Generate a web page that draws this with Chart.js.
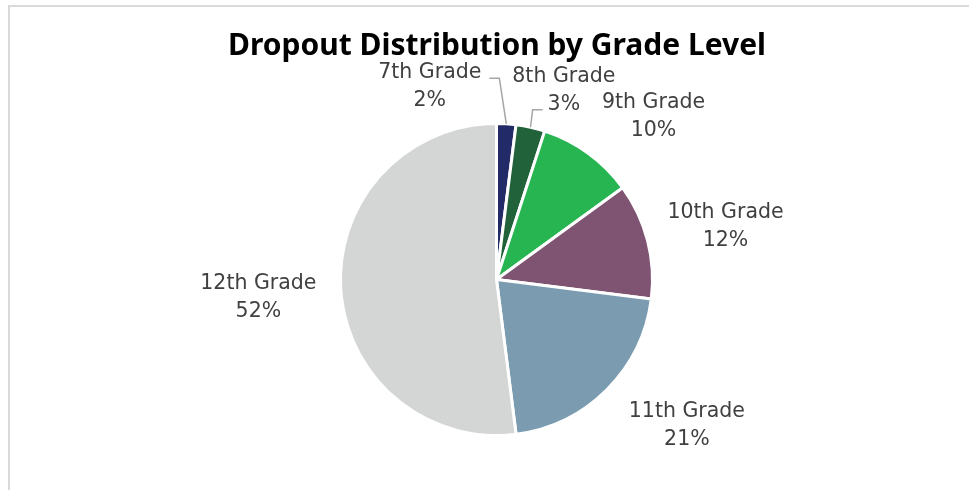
<!DOCTYPE html>
<html>
<head>
<meta charset="utf-8">
<script src="https://cdn.jsdelivr.net/npm/chart.js@4"></script>
<style>
  html, body { margin: 0; padding: 0; background: #fff; }
  #wrap { position: relative; width: 969px; height: 490px; }
  #frame {
    position: absolute; left: 8px; top: 5px; right: 0; bottom: 0;
    border-top: 2px solid #d9d9d9; border-left: 2px solid #d9d9d9;
  }
  canvas { position: absolute; left: 0; top: 0; }
</style>
</head>
<body>
<div id="wrap">
  <div id="frame"></div>
  <canvas id="dropout-pie" width="969" height="490"></canvas>
</div>
<script>
const grades = ["7th Grade", "8th Grade", "9th Grade", "10th Grade", "11th Grade", "12th Grade"];
const shares = [2, 3, 10, 12, 21, 52];
const sliceColors = ["#222a68", "#21623a", "#27b552", "#7f5372", "#7b9bb1", "#d4d5d5"];

// where each label sits: turn (deg) away from the slice middle, distance as a multiple of the radius
const labelTurn = [-22.5, 6.8, 7.6, 0.9, -7.9, -0.3];
const labelReach = [1.32, 1.30, 1.46, 1.51, 1.53, 1.53];

const titleText = "Dropout Distribution by Grade Level";

const titlePlugin = {
  id: "excelTitle",
  afterDraw(chart) {
    const ctx = chart.ctx;
    ctx.save();
    ctx.font = "bold 30px 'Noto Sans'";
    ctx.fillStyle = "#000000";
    ctx.textAlign = "center";
    ctx.textBaseline = "alphabetic";
    ctx.fillText(titleText, 497, 55);
    ctx.restore();
  },
};

const sliceLabels = {
  id: "sliceLabels",
  afterDatasetsDraw(chart) {
    const ctx = chart.ctx;
    const meta = chart.getDatasetMeta(0);
    ctx.save();
    ctx.font = "20.5px 'DejaVu Sans'";
    ctx.fillStyle = "#404040";
    ctx.textAlign = "center";
    ctx.textBaseline = "alphabetic";
    meta.data.forEach((arc, i) => {
      const { x, y, startAngle, endAngle, outerRadius } = arc.getProps(
        ["x", "y", "startAngle", "endAngle", "outerRadius"], true);
      const mid = (startAngle + endAngle) / 2;
      const a = mid + (labelTurn[i] * Math.PI) / 180;
      const r = outerRadius * labelReach[i];
      const cx = x + Math.cos(a) * r;
      const cy = y + Math.sin(a) * r;
      const line1 = grades[i];
      const line2 = shares[i] + "%";
      const base1 = cy - 14 + 7.5;
      const base2 = cy + 14 + 7.5;
      ctx.fillText(line1, cx, base1);
      ctx.fillText(line2, cx, base2);

      // leader lines for the two thin slices at the top
      if (i < 2) {
        const ex = x + Math.cos(mid) * outerRadius;
        const ey = y + Math.sin(mid) * outerRadius;
        let sx, sy, kx;
        if (i === 0) {
          sx = cx + ctx.measureText(line1).width / 2 + 8;
          sy = base1;
          kx = sx + 10;
        } else {
          sx = cx - ctx.measureText(line2).width / 2 - 5;
          sy = base2;
          kx = sx - 10;
        }
        ctx.strokeStyle = "#a6a6a6";
        ctx.lineWidth = 1.5;
        ctx.beginPath();
        ctx.moveTo(sx, sy);
        ctx.lineTo(kx, sy);
        ctx.lineTo(ex, ey);
        ctx.stroke();
      }
    });
    ctx.restore();
  },
};

new Chart(document.getElementById("dropout-pie").getContext("2d"), {
  type: "pie",
  data: {
    labels: grades,
    datasets: [
      {
        data: shares,
        backgroundColor: sliceColors,
        borderColor: "#ffffff",
        borderWidth: 3,
      },
    ],
  },
  options: {
    responsive: false,
    animation: false,
    layout: { padding: { left: 339, right: 315, top: 122, bottom: 53 } },
    plugins: {
      legend: { display: false },
      tooltip: { enabled: false },
      title: { display: false },
    },
  },
  plugins: [sliceLabels, titlePlugin],
});
</script>
</body>
</html>
